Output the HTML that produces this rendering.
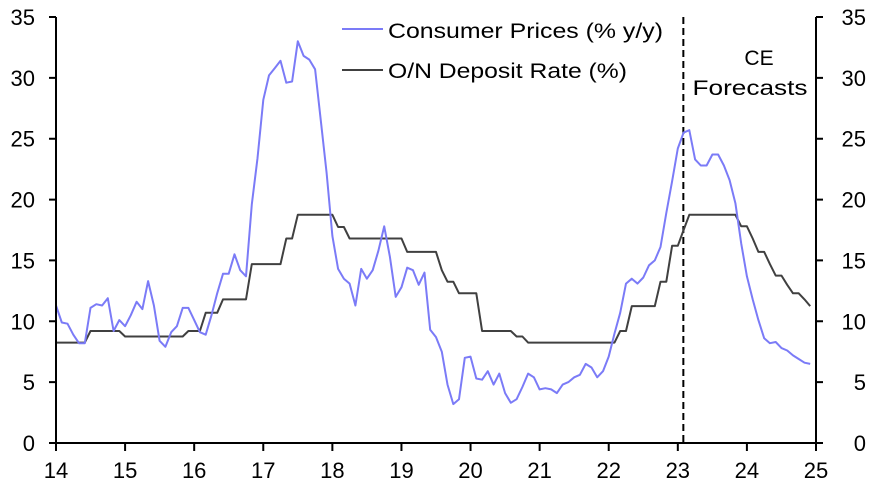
<!DOCTYPE html>
<html><head><meta charset="utf-8"><style>
html,body{margin:0;padding:0;background:#fff;}
svg{display:block;font-family:"Liberation Sans",Arial,sans-serif;}
</style></head><body>
<svg id="chart" width="877" height="486" viewBox="0 0 877 486" xmlns="http://www.w3.org/2000/svg"></svg>
<script>
const cpi=[11.3,9.9,9.8,8.9,8.2,8.2,11.1,11.4,11.3,11.9,9.2,10.1,
9.6,10.5,11.6,11.0,13.3,11.3,8.4,7.9,9.1,9.6,11.1,11.1,
10.1,9.1,8.9,10.5,12.3,13.9,13.9,15.5,14.2,13.7,19.6,23.4,
28.2,30.2,30.8,31.4,29.6,29.7,33.0,31.8,31.5,30.7,26.5,22.2,
17.0,14.3,13.5,13.1,11.3,14.3,13.5,14.2,15.8,17.8,15.3,12.0,
12.8,14.4,14.2,13.0,14.0,9.3,8.7,7.5,4.8,3.2,3.6,7.0,
7.1,5.3,5.2,5.9,4.8,5.7,4.1,3.3,3.6,4.6,5.7,5.4,
4.4,4.5,4.4,4.1,4.8,5.0,5.4,5.6,6.5,6.2,5.4,5.9,
7.1,9.0,10.7,13.1,13.5,13.1,13.6,14.6,15.0,16.1,18.9,21.5,
24.2,25.5,25.7,23.3,22.8,22.8,23.7,23.7,22.8,21.6,19.7,16.4,
13.7,11.8,10.1,8.6,8.2,8.3,7.8,7.6,7.2,6.9,6.6,6.5];
const depo=[8.25,8.25,8.25,8.25,8.25,8.25,9.2,9.2,9.2,9.2,9.2,9.2,
8.75,8.75,8.75,8.75,8.75,8.75,8.75,8.75,8.75,8.75,8.75,9.2,
9.2,9.2,10.7,10.7,10.7,11.8,11.8,11.8,11.8,11.8,14.7,14.7,
14.7,14.7,14.7,14.7,16.8,16.8,18.75,18.75,18.75,18.75,18.75,18.75,
18.75,17.75,17.75,16.8,16.8,16.8,16.8,16.8,16.8,16.8,16.8,16.8,
16.8,15.7,15.7,15.7,15.7,15.7,15.7,14.2,13.25,13.25,12.3,12.3,
12.3,12.3,9.2,9.2,9.2,9.2,9.2,9.2,8.75,8.75,8.25,8.25,
8.25,8.25,8.25,8.25,8.25,8.25,8.25,8.25,8.25,8.25,8.25,8.25,
8.25,8.25,9.2,9.2,11.25,11.25,11.25,11.25,11.25,13.25,13.25,16.2,
16.2,17.5,18.75,18.75,18.75,18.75,18.75,18.75,18.75,18.75,18.75,17.8,
17.8,16.8,15.7,15.7,14.7,13.75,13.75,13.0,12.3,12.3,11.8,11.25];
const startYear=14;
const xTickLabels=["14","15","16","17","18","19","20","21","22","23","24","25"];
const yTickLabels=["0","5","10","15","20","25","30","35"];
const forecastStart=23.08;

const svg=document.getElementById('chart');
const NS='http://www.w3.org/2000/svg';
const X0=56,X1=816,Y0=443,Y1=17,YMAX=35,NYEARS=11;
function xYear(y){return X0+(y-startYear)/NYEARS*(X1-X0);}
function xMonth(m){return xYear(startYear+m/12);}
function yVal(v){return Y0-v/YMAX*(Y0-Y1);}
function mk(tag,attrs){const e=document.createElementNS(NS,tag);for(const k in attrs)e.setAttribute(k,attrs[k]);svg.appendChild(e);return e;}

const fl=mk('line',{x1:xYear(forecastStart),x2:xYear(forecastStart),y1:Y1,y2:Y0,stroke:'#000','stroke-width':2,'stroke-dasharray':'7,4'});



function series(arr,color,name){
  let d='';arr.forEach((v,i)=>{d+=(i?'L':'M')+xMonth(i).toFixed(1)+','+yVal(v).toFixed(1);});
  const p=mk('path',{d:d,fill:'none',stroke:color,'stroke-width':2,'stroke-linejoin':'round'});
  
  
}
series(depo,'#404040','deposit-rate-line');
series(cpi,'#7b7bf7','consumer-prices-line');

const ax=mk('path',{d:`M${X0},${Y1}V${Y0}H${X1}V${Y1}`,fill:'none',stroke:'#000','stroke-width':2});


yTickLabels.forEach((t,i)=>{
  const v=+t,y=yVal(v);
  const tk=mk('path',{d:`M${X0-7},${y}H${X0}M${X1},${y}H${X1+7}`,stroke:'#000','stroke-width':2});
  
  
  const l=mk('text',{x:35,y:y+8,'text-anchor':'end','font-size':22,fill:'#000'});l.textContent=t;
  
  
  const r=mk('text',{x:866,y:y+8,'text-anchor':'end','font-size':22,fill:'#000'});r.textContent=t;
  
  
});
xTickLabels.forEach((t,i)=>{
  const x=xYear(startYear+i);
  const tk=mk('line',{x1:x,x2:x,y1:Y0,y2:Y0+8,stroke:'#000','stroke-width':2});
  
  
  const l=mk('text',{x:x,y:478,'text-anchor':'middle','font-size':22,fill:'#000'});l.textContent=t;
  
  
});

const l1=mk('line',{x1:342,x2:383,y1:29,y2:29,stroke:'#7b7bf7','stroke-width':2});


const t1=mk('text',{x:388,y:38,'font-size':21,textLength:275,lengthAdjust:'spacingAndGlyphs'});t1.textContent='Consumer Prices (% y/y)';


const l2=mk('line',{x1:342,x2:383,y1:70,y2:70,stroke:'#404040','stroke-width':2});


const t2=mk('text',{x:388,y:78,'font-size':21,textLength:239,lengthAdjust:'spacingAndGlyphs'});t2.textContent='O/N Deposit Rate (%)';



const c1=mk('text',{x:759,y:65,'text-anchor':'middle','font-size':21});c1.textContent='CE';


const c2=mk('text',{x:750,y:95,'text-anchor':'middle','font-size':21,textLength:115,lengthAdjust:'spacingAndGlyphs'});c2.textContent='Forecasts';


</script>
</body></html>
